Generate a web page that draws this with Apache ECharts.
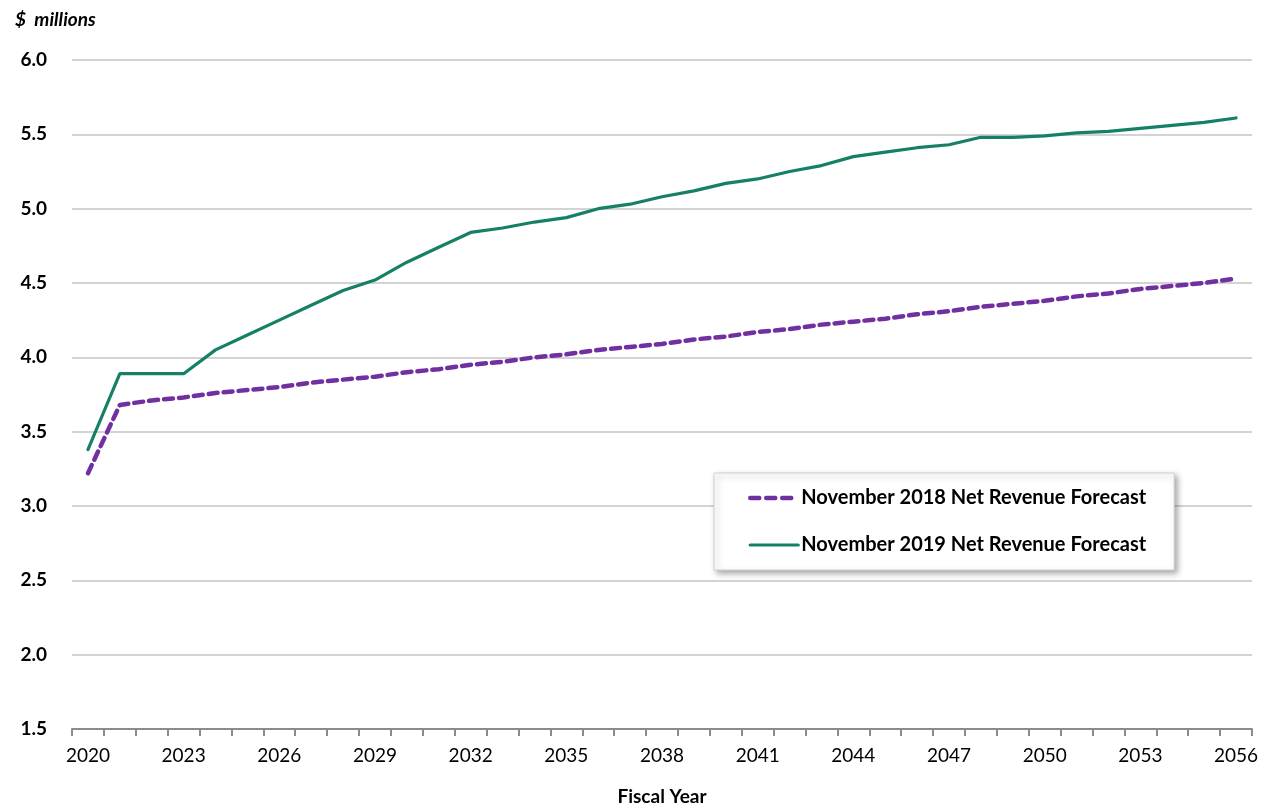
<!DOCTYPE html>
<html>
<head>
<meta charset="utf-8">
<script src="https://cdn.jsdelivr.net/npm/echarts@6/dist/echarts.min.js"></script>
<style>
  html, body { margin: 0; padding: 0; background: #fff; }
  #chart { width: 1271px; height: 811px; }
</style>
</head>
<body>
<div id="chart"></div>
<script>
// Fiscal years 2020–2056
const years = [];
for (let y = 2020; y <= 2056; y++) years.push(String(y));

// Net revenue forecasts, $ millions
const forecast2018 = [
  3.22, 3.68, 3.71, 3.73, 3.76, 3.78, 3.80, 3.83, 3.85, 3.87,
  3.90, 3.92, 3.95, 3.97, 4.00, 4.02, 4.05, 4.07, 4.09, 4.12,
  4.14, 4.17, 4.19, 4.22, 4.24, 4.26, 4.29, 4.31, 4.34, 4.36,
  4.38, 4.41, 4.43, 4.46, 4.48, 4.50, 4.53
];
const forecast2019 = [
  3.38, 3.89, 3.89, 3.89, 4.05, 4.15, 4.25, 4.35, 4.45, 4.52,
  4.64, 4.74, 4.84, 4.87, 4.91, 4.94, 5.00, 5.03, 5.08, 5.12,
  5.17, 5.20, 5.25, 5.29, 5.35, 5.38, 5.41, 5.43, 5.48, 5.48,
  5.49, 5.51, 5.52, 5.54, 5.56, 5.58, 5.61
];

const seriesNames = ['November 2018 Net Revenue Forecast', 'November 2019 Net Revenue Forecast'];
const FONT = 'Lato, "Open Sans", sans-serif';
const PURPLE = '#7030a0';
const GREEN = '#158066';

const chart = echarts.init(document.getElementById('chart'), null, { renderer: 'canvas' });
chart.setOption({
  animation: false,
  backgroundColor: '#ffffff',
  title: {
    text: '$  millions',
    left: 10,
    top: 5,
    textStyle: { fontFamily: FONT, fontSize: 19, fontWeight: 'bold', fontStyle: 'italic', color: '#000' }
  },
  grid: { left: 72, right: 19, top: 60, bottom: 81 },
  legend: {
    orient: 'vertical',
    left: 714,
    top: 473,
    padding: [15, 28, 15, 34],
    itemGap: 27,
    itemWidth: 48,
    itemHeight: 20,
    backgroundColor: '#ffffff',
    borderColor: '#d0d0d0',
    borderWidth: 1,
    shadowColor: 'rgba(0,0,0,0.35)',
    shadowBlur: 6,
    shadowOffsetX: 3,
    shadowOffsetY: 3,
    itemStyle: { opacity: 0 },
    textStyle: { fontFamily: FONT, fontSize: 20, fontWeight: 'bold', color: '#000', padding: [0, 0, 0, -2] },
    data: [
      { name: seriesNames[0], lineStyle: { width: 4.5, type: [9, 7], cap: 'round', color: PURPLE } },
      { name: seriesNames[1], lineStyle: { width: 3.2, color: GREEN } }
    ]
  },
  xAxis: {
    type: 'category',
    data: years,
    boundaryGap: true,
    name: 'Fiscal Year',
    nameLocation: 'middle',
    nameGap: 58,
    nameTextStyle: { fontFamily: FONT, fontSize: 19, fontWeight: 'bold', color: '#000' },
    axisLine: { lineStyle: { color: '#8c8c8c', width: 2 } },
    axisTick: { show: true, interval: 0, length: 7, lineStyle: { color: '#8c8c8c', width: 2 } },
    axisLabel: { interval: 2, margin: 17, fontFamily: FONT, fontSize: 19, color: '#000' },
    splitLine: { show: false }
  },
  yAxis: {
    type: 'value',
    min: 1.5,
    max: 6.0,
    interval: 0.5,
    axisLine: { show: false },
    axisTick: { show: false },
    axisLabel: {
      margin: 25,
      fontFamily: FONT, fontSize: 19, fontWeight: 'bold', color: '#000',
      formatter: v => v.toFixed(1)
    },
    splitLine: { lineStyle: { color: '#c4c4c4', width: 1.5 } }
  },
  series: [
    {
      name: seriesNames[0],
      type: 'line',
      data: forecast2018,
      symbol: 'none',
      lineStyle: { color: PURPLE, width: 4.5, type: [9, 6], cap: 'round' },
      itemStyle: { color: PURPLE },
      z: 3
    },
    {
      name: seriesNames[1],
      type: 'line',
      data: forecast2019,
      symbol: 'none',
      lineStyle: { color: GREEN, width: 3.2, cap: 'round' },
      itemStyle: { color: GREEN },
      z: 4
    }
  ]
});
</script>
</body>
</html>
